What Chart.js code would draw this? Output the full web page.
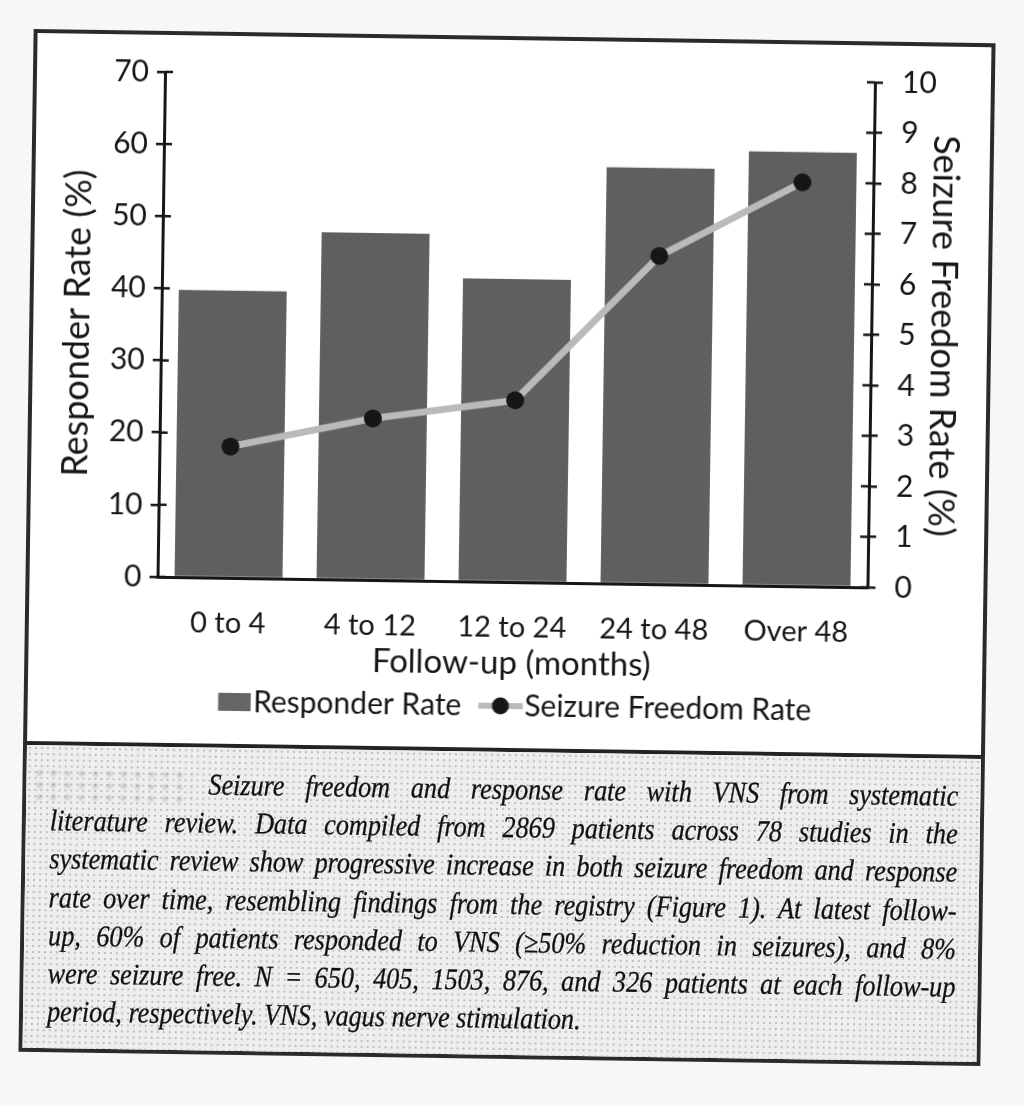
<!DOCTYPE html>
<html>
<head>
<meta charset="utf-8">
<script src="https://cdn.jsdelivr.net/npm/chart.js@4.4.1/dist/chart.umd.min.js"></script>
<style>
  html, body { margin: 0; padding: 0; background: #f7f7f6; }
  body { width: 1024px; height: 1106px; position: relative; overflow: hidden; }
  #frame {
    position: absolute; left: 26px; top: 36px; width: 962px; height: 1023px;
    box-sizing: border-box; border: 4px solid #2b2b2b; background: #fff;
    transform: rotate(0.85deg);
  }
  #plot { position: absolute; left: 0; top: 0; width: 954px; height: 708px; }
  #rule { position: absolute; left: 0; top: 708px; width: 954px; height: 4px; background: #232323; }
  #caption {
    position: absolute; left: 0; top: 712px; width: 954px; height: 303px;
    box-sizing: border-box; padding: 18px 22px 0 24px;
    background-color: #eeeeee;
    background-image: radial-gradient(circle, rgba(0,0,0,.2) 0.7px, transparent 1.1px);
    background-size: 6px 6px;
    font-family: "Liberation Serif", "DejaVu Serif", serif; font-style: italic;
    font-size: 30px; line-height: 38.2px; color: #111;
    -webkit-text-stroke: 0.3px #111;
  }
  .ln {
    width: 1040px; transform: scaleX(0.873); transform-origin: 0 0;
    text-align: justify; text-align-last: justify; white-space: nowrap;
  }
  .first { padding-left: 181px; width: 859px; }
  .last { text-align-last: left; }
  #smudge {
    position: absolute; left: 6px; top: 22px; width: 160px; height: 34px;
    background-image: radial-gradient(circle, rgba(0,0,0,.35) 1.5px, transparent 3px);
    background-size: 14px 12px; filter: blur(1.5px); opacity: .6;
  }
</style>
</head>
<body>
<div id="frame">
  <div id="plot"><canvas id="myChart" width="954" height="708"></canvas></div>
  <div id="rule"></div>
  <div id="caption">
    <div id="smudge"></div>
    <div class="ln first">Seizure freedom and response rate with VNS from systematic</div>
    <div class="ln">literature review. Data compiled from 2869 patients across 78 studies in the</div>
    <div class="ln">systematic review show progressive increase in both seizure freedom and response</div>
    <div class="ln">rate over time, resembling findings from the registry (Figure 1). At latest follow-</div>
    <div class="ln">up, 60% of patients responded to VNS (≥50% reduction in seizures), and 8%</div>
    <div class="ln">were seizure free. N = 650, 405, 1503, 876, and 326 patients at each follow-up</div>
    <div class="ln last">period, respectively. VNS, vagus nerve stimulation.</div>
  </div>
</div>
<script>
// data
const followUp = ["0 to 4", "4 to 12", "12 to 24", "24 to 48", "Over 48"];
const responderRate = [39.8, 48.1, 42.0, 57.7, 60.2];
const seizureFreedomRate = [2.6, 3.2, 3.6, 6.5, 8.0];
const responderAxis = { min: 0, max: 70, step: 10 };
const freedomAxis = { min: 0, max: 10, step: 1 };

const ink = "#161616";
const barGrey = "#5f5f5f";
const lineGrey = "#bababa";
const tickFont = { family: "Lato", size: 30 };
const xTickFont = { family: "Lato", size: 29 };
const legendFont = { family: "Lato", size: 30 };
const xTitleFont = { family: "Lato", size: 33 };
const yTitleFont = { family: "Lato", size: 36 };

// legend swatches: image is centred on the box, content pushed to the right
const BOX_W = 40;
function makeSwatch(contentW, draw) {
    const right = BOX_W + legendFont.size / 2 - 2;
    const W = Math.round(2 * (right - BOX_W / 2));
    const cv = document.createElement("canvas");
    cv.width = W;
    cv.height = 24;
    draw(cv.getContext("2d"), W - contentW, contentW);
    return cv;
}
const barSwatch = makeSwatch(33, (g, x0, w) => {
    g.fillStyle = "#666";
    g.fillRect(x0, 3, w, 18);
});
const lineSwatch = makeSwatch(44, (g, x0, w) => {
    g.strokeStyle = lineGrey;
    g.lineWidth = 6;
    g.beginPath(); g.moveTo(x0, 12); g.lineTo(x0 + w, 12); g.stroke();
    g.fillStyle = ink;
    g.beginPath(); g.arc(x0 + w / 2, 12, 8.5, 0, Math.PI * 2); g.fill();
});

// Excel style ticks that cross the axis line
const crossTicks = {
    id: "crossTicks",
    afterDraw(chart) {
        const { ctx } = chart;
        ctx.save();
        ctx.strokeStyle = ink;
        ctx.lineWidth = 2.5;
        ["y", "y1"].forEach((id) => {
            const s = chart.scales[id];
            const x = id === "y" ? s.right : s.left;
            const dir = id === "y" ? 1 : -1;
            s.ticks.forEach((t, i) => {
                const py = s.getPixelForTick(i);
                ctx.beginPath();
                ctx.moveTo(x, py);
                ctx.lineTo(x + dir * 8, py);
                ctx.stroke();
            });
        });
        ctx.restore();
    },
};

const yScale = (pos, range, title, titlePad, tickPad, width) => ({
    position: pos,
    min: range.min,
    max: range.max,
    ticks: { stepSize: range.step, font: tickFont, color: ink, padding: tickPad },
    grid: { drawOnChartArea: false, drawTicks: true, tickLength: 8, color: ink, lineWidth: 2.5 },
    border: { display: true, color: ink, width: 3 },
    title: { display: true, text: title, font: yTitleFont, color: ink, padding: { top: titlePad } },
    afterFit: (s) => { s.width = width; },
});

new Chart(document.getElementById("myChart"), {
    data: {
        labels: followUp,
        datasets: [
            {
                type: "bar",
                label: "Responder Rate",
                data: responderRate,
                backgroundColor: barGrey,
                categoryPercentage: 1,
                barPercentage: 0.76,
                yAxisID: "y",
                order: 2,
            },
            {
                type: "line",
                label: "Seizure Freedom Rate",
                data: seizureFreedomRate,
                borderColor: lineGrey,
                borderWidth: 7,
                pointRadius: 9,
                pointBorderWidth: 0,
                pointBackgroundColor: ink,
                tension: 0,
                yAxisID: "y1",
                order: 1,
            },
        ],
    },
    options: {
        responsive: false,
        animation: false,
        devicePixelRatio: 1,
        layout: { padding: { top: 20, bottom: 17, left: 0, right: 0 } },
        scales: {
            x: {
                grid: { display: false },
                border: { display: true, color: ink, width: 3 },
                ticks: { font: xTickFont, color: ink, padding: 20 },
                title: { display: true, text: "Follow-up (months)", font: xTitleFont, color: ink, padding: { top: 0, bottom: 0 } },
                afterFit: (s) => { s.height = 101; },
            },
            y: yScale("left", responderAxis, "Responder Rate (%)", 23, 8, 128),
            // the tick padding here also sets the room left above the plot
            y1: yScale("right", freedomAxis, "Seizure Freedom Rate (%)", 23, 19, 116),
        },
        plugins: {
            tooltip: { enabled: false },
            legend: {
                position: "bottom",
                labels: {
                    font: legendFont,
                    color: ink,
                    usePointStyle: true,
                    pointStyleWidth: BOX_W,
                    padding: 8,
                    sort: (a, b) => a.datasetIndex - b.datasetIndex,
                    generateLabels(chart) {
                        const items = Chart.defaults.plugins.legend.labels.generateLabels(chart);
                        items.forEach((it) => {
                            it.pointStyle = it.datasetIndex === 0 ? barSwatch : lineSwatch;
                        });
                        return items;
                    },
                },
            },
        },
    },
    plugins: [crossTicks],
});
</script>
</body>
</html>
